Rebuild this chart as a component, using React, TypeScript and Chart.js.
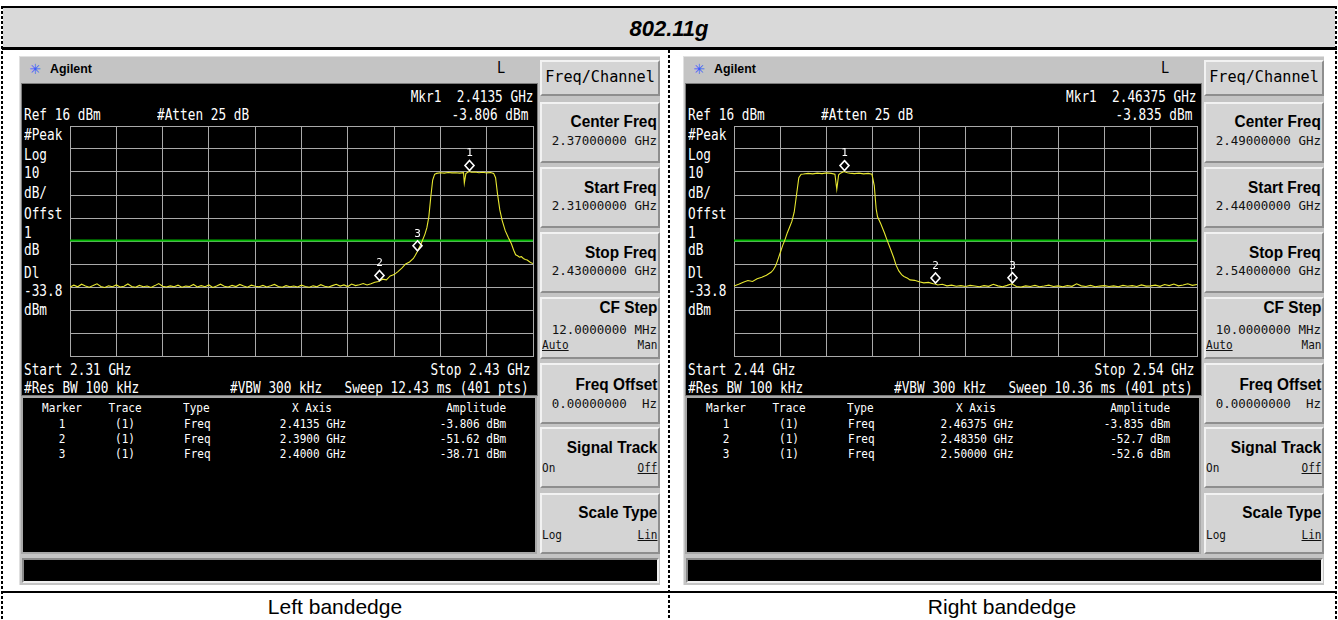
import React, { useEffect, useRef } from "react";
import { Chart, registerables } from "chart.js";

Chart.register(...registerables);

// ---------------- DATA ----------------
const TITLE = "802.11g";
const CAPTIONS = ["Left bandedge", "Right bandedge"];
const REF_LEVEL = 16; // dBm (top of graticule)
const DB_PER_DIV = 10;
const DISPLAY_LINE = -33.8; // dBm
const LEFT_SPAN = [2.31, 2.43]; // GHz
const RIGHT_SPAN = [2.44, 2.54]; // GHz

// Spectrum traces: [frequency GHz, level dBm]
const LEFT_TRACE: [number, number][] = [
  [2.310, -54.0], [2.311, -53.2], [2.312, -53.9], [2.313, -52.8], [2.314, -53.6], [2.315, -54.1], [2.316, -53.4], [2.317, -52.6], [2.318, -53.8], [2.319, -54.2],
  [2.320, -53.5], [2.321, -53.9], [2.322, -53.1], [2.323, -54.0], [2.324, -53.7], [2.325, -52.7], [2.326, -53.8], [2.327, -54.1], [2.328, -53.3], [2.329, -53.9],
  [2.330, -53.6], [2.331, -54.2], [2.332, -53.4], [2.333, -52.5], [2.334, -53.7], [2.335, -54.0], [2.336, -53.5], [2.337, -53.9], [2.338, -53.2], [2.339, -54.1],
  [2.340, -53.6], [2.341, -53.8], [2.342, -52.9], [2.343, -54.0], [2.344, -53.4], [2.345, -53.9], [2.346, -53.1], [2.347, -54.2], [2.348, -53.6], [2.349, -52.8],
  [2.350, -53.7], [2.351, -54.0], [2.352, -53.3], [2.353, -53.8], [2.354, -52.9], [2.355, -53.6], [2.356, -54.1], [2.357, -53.2], [2.358, -53.7], [2.359, -53.9],
  [2.360, -53.3], [2.361, -54.0], [2.362, -53.5], [2.363, -52.9], [2.364, -53.8], [2.365, -54.1], [2.366, -53.4], [2.367, -53.9], [2.368, -53.6], [2.369, -54.0],
  [2.370, -53.2], [2.371, -53.8], [2.372, -54.1], [2.373, -53.5], [2.374, -53.9], [2.375, -53.0], [2.376, -53.7], [2.377, -54.0], [2.378, -53.4], [2.379, -52.8],
  [2.380, -53.6], [2.381, -53.1], [2.382, -53.8], [2.383, -52.7], [2.384, -53.4], [2.385, -53.0], [2.386, -52.5], [2.387, -53.1], [2.388, -52.6], [2.389, -51.9],
  [2.390, -51.6], [2.391, -50.6], [2.392, -50.9], [2.393, -49.2], [2.394, -48.6], [2.395, -47.3], [2.396, -45.8], [2.397, -44.0], [2.398, -43.1], [2.399, -41.6],
  [2.3995, -40.2], [2.400, -38.7], [2.401, -35.2], [2.402, -31.0], [2.4025, -28.2], [2.403, -23.5], [2.4035, -15.0], [2.404, -7.5], [2.4045, -5.0], [2.405, -4.6],
  [2.406, -4.3], [2.407, -4.5], [2.408, -4.2], [2.409, -4.4], [2.410, -4.3], [2.411, -4.5], [2.412, -4.3], [2.4122, -8.8], [2.4126, -4.7], [2.413, -4.2],
  [2.4135, -3.8], [2.414, -4.1], [2.415, -4.0], [2.416, -4.3], [2.417, -4.1], [2.418, -4.4], [2.419, -4.2], [2.4198, -4.6], [2.4203, -6.5], [2.4208, -13.5],
  [2.4214, -20.5], [2.422, -25.0], [2.4228, -29.5], [2.4236, -32.5], [2.4244, -35.2], [2.425, -38.0], [2.4255, -40.0], [2.426, -40.4], [2.4265, -41.0], [2.427, -40.8],
  [2.4275, -41.6], [2.428, -42.0], [2.4285, -42.3], [2.429, -42.9], [2.4295, -43.5], [2.430, -43.8],
];

const RIGHT_TRACE: [number, number][] = [
  [2.440, -53.6], [2.441, -52.8], [2.442, -51.9], [2.443, -51.2], [2.444, -51.6], [2.445, -50.4], [2.446, -49.8], [2.447, -48.9], [2.448, -47.6], [2.4485, -46.5],
  [2.449, -44.8], [2.4495, -42.0], [2.450, -39.0], [2.4505, -36.0], [2.451, -33.5], [2.4515, -30.5], [2.452, -28.0], [2.4525, -25.5], [2.453, -21.5], [2.4535, -14.0],
  [2.454, -6.5], [2.4545, -5.0], [2.455, -4.9], [2.456, -4.6], [2.457, -4.8], [2.458, -4.5], [2.459, -4.7], [2.460, -4.4], [2.461, -4.6], [2.4618, -5.0],
  [2.4622, -11.5], [2.4626, -5.2], [2.463, -4.5], [2.46375, -3.8], [2.4645, -4.3], [2.465, -4.5], [2.466, -4.7], [2.467, -4.5], [2.468, -4.8], [2.469, -4.6],
  [2.4698, -5.0], [2.4703, -10.0], [2.4707, -20.0], [2.471, -23.5], [2.4717, -26.5], [2.4725, -30.5], [2.473, -33.3], [2.4738, -37.5], [2.4745, -41.3], [2.475, -44.5],
  [2.4756, -47.0], [2.4762, -48.6], [2.4767, -49.4], [2.4775, -50.2], [2.478, -50.9], [2.479, -51.1], [2.480, -51.7], [2.481, -52.2], [2.482, -52.0], [2.483, -52.6],
  [2.4835, -52.7], [2.484, -53.1], [2.485, -52.8], [2.486, -53.5], [2.487, -53.2], [2.488, -53.7], [2.489, -53.4], [2.490, -53.8], [2.491, -53.3], [2.492, -53.6],
  [2.493, -53.9], [2.494, -53.4], [2.495, -53.7], [2.496, -52.8], [2.497, -53.5], [2.498, -53.9], [2.499, -53.3], [2.500, -52.6], [2.501, -53.8], [2.502, -54.0],
  [2.503, -53.5], [2.504, -53.8], [2.505, -53.3], [2.506, -53.9], [2.507, -53.6], [2.508, -53.2], [2.509, -53.8], [2.510, -53.5], [2.511, -53.9], [2.512, -53.4],
  [2.513, -53.7], [2.514, -52.6], [2.515, -53.5], [2.516, -53.8], [2.517, -53.3], [2.518, -53.9], [2.519, -53.6], [2.520, -53.4], [2.521, -53.8], [2.522, -53.5],
  [2.523, -53.9], [2.524, -53.3], [2.525, -53.7], [2.526, -53.4], [2.527, -53.8], [2.528, -53.1], [2.529, -53.6], [2.530, -53.5], [2.531, -53.2], [2.532, -53.7],
  [2.533, -52.9], [2.534, -53.4], [2.535, -52.7], [2.536, -53.5], [2.537, -53.1], [2.538, -52.6], [2.539, -53.3], [2.540, -52.9],
];

// Markers
const LEFT_MARKER_FREQS = [2.4135, 2.39, 2.40];
const LEFT_MARKER_AMPS = [-3.806, -51.62, -38.71];
const LEFT_MARKER_X_LABELS = ["2.4135 GHz", "2.3900 GHz", "2.4000 GHz"];
const LEFT_MARKER_AMP_LABELS = ["-3.806 dBm", "-51.62 dBm", "-38.71 dBm"];

const RIGHT_MARKER_FREQS = [2.46375, 2.4835, 2.50];
const RIGHT_MARKER_AMPS = [-3.835, -52.7, -52.6];
const RIGHT_MARKER_X_LABELS = ["2.46375 GHz", "2.48350 GHz", "2.50000 GHz"];
const RIGHT_MARKER_AMP_LABELS = ["-3.835 dBm", "-52.7 dBm", "-52.6 dBm"];

// Instrument settings text
const LEFT_MKR1 = ["Mkr1  2.4135 GHz", "-3.806 dBm"];
const RIGHT_MKR1 = ["Mkr1  2.46375 GHz", "-3.835 dBm"];
const LEFT_START_STOP = ["Start 2.31 GHz", "Stop 2.43 GHz"];
const RIGHT_START_STOP = ["Start 2.44 GHz", "Stop 2.54 GHz"];
const LEFT_SWEEP = "Sweep 12.43 ms (401 pts)";
const RIGHT_SWEEP = "Sweep 10.36 ms (401 pts)";
const LEFT_KEY_VALUES = ["2.37000000 GHz", "2.31000000 GHz", "2.43000000 GHz", "12.0000000 MHz"];
const RIGHT_KEY_VALUES = ["2.49000000 GHz", "2.44000000 GHz", "2.54000000 GHz", "10.0000000 MHz"];
const SIDE_LABELS = ["#Peak", "Log", "10", "dB/", "Offst", "1", "dB", "Dl", "-33.8", "dBm"];

// ---------------- STYLE HELPERS ----------------
const W = 1338;
const H = 620;
const MONO = '"DejaVu Sans Mono", "Liberation Mono", monospace';
const SANS = '"Liberation Sans", Arial, sans-serif';

type TP = {
  x: number;
  y: number;
  a?: "start" | "end" | "middle";
  size?: number;
  sx?: number;
  color?: string;
  font?: string;
  weight?: number;
  italic?: boolean;
  underline?: boolean;
  children: React.ReactNode;
};

function T({ x, y, a = "start", size = 15, sx = 1, color = "#fff", font = MONO, weight = 400, italic = false, underline = false, children }: TP) {
  const s: any = {
    position: "absolute",
    top: y - size * 0.6,
    lineHeight: `${size * 1.2}px`,
    height: size * 1.2,
    fontSize: size,
    fontFamily: font,
    fontWeight: weight,
    fontStyle: italic ? "italic" : "normal",
    textDecoration: underline ? "underline" : "none",
    color,
    whiteSpace: "pre",
  };
  if (a === "start") {
    s.left = x;
    s.transformOrigin = "left center";
    s.transform = `scaleX(${sx})`;
  } else if (a === "end") {
    s.right = W - x;
    s.transformOrigin = "right center";
    s.transform = `scaleX(${sx})`;
  } else {
    s.left = x;
    s.transformOrigin = "center center";
    s.transform = `translateX(-50%) scaleX(${sx})`;
  }
  return <div style={s}>{children}</div>;
}

function Box({ x, y, w, h, style }: { x: number; y: number; w: number; h: number; style?: any }) {
  return <div style={{ position: "absolute", left: x, top: y, width: w, height: h, boxSizing: "border-box", ...style }} />;
}

// ---------------- CHART ----------------
type SpecProps = {
  x: number;
  y: number;
  w: number;
  h: number;
  trace: [number, number][];
  span: number[];
  mf: number[];
  ma: number[];
};

function Spectrum({ x, y, w, h, trace, span, mf, ma }: SpecProps) {
  const ref = useRef<HTMLCanvasElement>(null);
  useEffect(() => {
    if (!ref.current) return;
    const yMin = REF_LEVEL - DB_PER_DIV * 10;
    const markerPlugin = {
      id: "markers",
      afterDatasetsDraw(chart: any) {
        const { ctx, scales } = chart;
        const xs = scales.x;
        const ys = scales.y;
        ctx.save();
        mf.forEach((f, i) => {
          const px = Math.round(xs.getPixelForValue(f)) + 0.5;
          const py = ys.getPixelForValue(ma[i]);
          const cy = py - 6;
          ctx.strokeStyle = "#ffffff";
          ctx.lineWidth = 1.6;
          ctx.beginPath();
          ctx.moveTo(px, cy - 5);
          ctx.lineTo(px + 4.5, cy);
          ctx.lineTo(px, cy + 5);
          ctx.lineTo(px - 4.5, cy);
          ctx.closePath();
          ctx.stroke();
          ctx.fillStyle = "#ffffff";
          ctx.font = '11px "DejaVu Sans Mono"';
          ctx.textAlign = "center";
          ctx.textBaseline = "middle";
          ctx.fillText(String(i + 1), px, cy - 12);
        });
        ctx.restore();
      },
    };
    const gridColor = "#a9a9a9";
    const chart = new Chart(ref.current, {
      type: "line",
      data: {
        datasets: [
          {
            data: trace.map(([f, a]) => ({ x: f, y: a })),
            borderColor: "#e8e830",
            borderWidth: 1.1,
            pointRadius: 0,
            tension: 0,
            order: 1,
          },
          {
            data: [
              { x: span[0], y: DISPLAY_LINE },
              { x: span[1], y: DISPLAY_LINE },
            ],
            borderColor: "#00b800",
            borderWidth: 2,
            pointRadius: 0,
            order: 2,
          },
        ],
      },
      options: {
        animation: false,
        responsive: false,
        maintainAspectRatio: false,
        events: [],
        layout: { padding: 1 },
        plugins: { legend: { display: false }, tooltip: { enabled: false }, title: { display: false } },
        scales: {
          x: {
            type: "linear",
            min: span[0],
            max: span[1],
            afterBuildTicks: (s: any) => {
              const t = [];
              for (let i = 0; i <= 10; i++) t.push({ value: span[0] + ((span[1] - span[0]) * i) / 10 });
              s.ticks = t;
            },
            ticks: { display: false },
            grid: { color: gridColor, lineWidth: 1, drawTicks: false },
            border: { color: gridColor, width: 1 },
          },
          y: {
            type: "linear",
            min: yMin,
            max: REF_LEVEL,
            afterBuildTicks: (s: any) => {
              const t = [];
              for (let i = 0; i <= 10; i++) t.push({ value: yMin + DB_PER_DIV * i });
              s.ticks = t;
            },
            ticks: { display: false },
            grid: { color: gridColor, lineWidth: 1, drawTicks: false },
            border: { color: gridColor, width: 1 },
          },
        },
      } as any,
      plugins: [markerPlugin],
    });
    return () => chart.destroy();
  }, []);
  return (
    <canvas
      ref={ref}
      width={w + 2}
      height={h + 2}
      style={{ position: "absolute", left: x - 1, top: y - 1, width: w + 2, height: h + 2 }}
    />
  );
}

// ---------------- PANEL ----------------
type PanelProps = {
  x0: number;
  trace: [number, number][];
  span: number[];
  mf: number[];
  ma: number[];
  mxl: string[];
  mal: string[];
  mkr1: string[];
  startStop: string[];
  sweep: string;
  keyValues: string[];
};

const KEY_TOPS = [102, 167, 232, 297, 363, 427, 493];

function Panel({ x0, trace, span, mf, ma, mxl, mal, mkr1, startStop, sweep, keyValues }: PanelProps) {
  const SCR = 15;
  const SX = 0.85;
  const sideY = [135, 155, 173, 193, 214, 233, 250, 273, 291, 310];
  const rowY = [424, 439, 454];
  const kx = x0 + 521;
  const kr = x0 + 638;
  const keyDefs = [
    { label: "Center Freq", value: keyValues[0], ly: 122, vy: 140 },
    { label: "Start Freq", value: keyValues[1], ly: 188, vy: 205 },
    { label: "Stop Freq", value: keyValues[2], ly: 253, vy: 270 },
    { label: "CF Step", value: keyValues[3], ly: 308, vy: 329, opts: ["Auto", "Man"], oy: 345, ul: 0 },
    { label: "Freq Offset", value: "0.00000000  Hz", ly: 385, vy: 403 },
    { label: "Signal Track", ly: 448, opts: ["On", "Off"], oy: 468, ul: 1 },
    { label: "Scale Type", ly: 513, opts: ["Log", "Lin"], oy: 535, ul: 1 },
  ];
  const keyStyle = {
    background: "#d4d4d4",
    borderTop: "2px solid #f2f2f2",
    borderLeft: "2px solid #f2f2f2",
    borderBottom: "2px solid #8e8e8e",
    borderRight: "2px solid #8e8e8e",
  };
  return (
    <>
      {/* panel body */}
      <Box x={x0} y={56} w={641} h={529} style={{ background: "#c4c4c4", borderTop: "1px solid #e0e0e0", borderLeft: "1px solid #e0e0e0" }} />
      {/* header */}
      <T x={x0 + 16} y={69} a="middle" size={14} color="#3b5bff" font='"DejaVu Sans", sans-serif'>✳</T>
      <T x={x0 + 31} y={69} size={13} sx={0.95} color="#000" font={SANS} weight={700}>Agilent</T>
      <T x={x0 + 482} y={68} a="middle" size={16} sx={0.85} color="#000">L</T>
      {/* screen */}
      <Box x={x0 + 2} y={83} w={517} h={313} style={{ background: "#000", border: "1px solid #7c7c7c" }} />
      <Box x={x0 + 2} y={396} w={516} h={158} style={{ background: "#000", border: "2px solid #a8a8a8" }} />
      {/* bottom bar */}
      <Box x={x0 + 3} y={558} w={637} h={25} style={{ background: "#000", borderTop: "2px solid #8a8a8a", borderLeft: "2px solid #8a8a8a", borderBottom: "2px solid #efefef", borderRight: "2px solid #efefef" }} />

      {/* screen texts */}
      <T x={x0 + 514} y={97} a="end" size={SCR} sx={SX}>{mkr1[0]}</T>
      <T x={x0 + 5} y={115} size={SCR} sx={SX}>Ref 16 dBm</T>
      <T x={x0 + 138} y={115} size={SCR} sx={SX}>#Atten 25 dB</T>
      <T x={x0 + 509} y={115} a="end" size={SCR} sx={SX}>{mkr1[1]}</T>
      {SIDE_LABELS.map((s, i) => (
        <T key={s + i} x={x0 + 5} y={sideY[i]} size={SCR} sx={SX}>{s}</T>
      ))}
      <T x={x0 + 5} y={370} size={SCR} sx={SX}>{startStop[0]}</T>
      <T x={x0 + 511} y={370} a="end" size={SCR} sx={SX}>{startStop[1]}</T>
      <T x={x0 + 5} y={388} size={SCR} sx={SX}>#Res BW 100 kHz</T>
      <T x={x0 + 211} y={388} size={SCR} sx={SX}>#VBW 300 kHz</T>
      <T x={x0 + 510} y={388} a="end" size={SCR} sx={SX}>{sweep}</T>

      {/* marker table */}
      <T x={x0 + 43} y={408} a="middle" size={12} sx={0.92}>Marker</T>
      <T x={x0 + 106} y={408} a="middle" size={12} sx={0.92}>Trace</T>
      <T x={x0 + 164} y={408} size={12} sx={0.92}>Type</T>
      <T x={x0 + 293} y={408} a="middle" size={12} sx={0.92}>X Axis</T>
      <T x={x0 + 487} y={408} a="end" size={12} sx={0.92}>Amplitude</T>
      {rowY.map((ry, i) => (
        <React.Fragment key={i}>
          <T x={x0 + 43} y={ry} a="middle" size={12} sx={0.92}>{String(i + 1)}</T>
          <T x={x0 + 106} y={ry} a="middle" size={12} sx={0.92}>(1)</T>
          <T x={x0 + 165} y={ry} size={12} sx={0.92}>Freq</T>
          <T x={x0 + 294} y={ry} a="middle" size={12} sx={0.92}>{mxl[i]}</T>
          <T x={x0 + 487} y={ry} a="end" size={12} sx={0.92}>{mal[i]}</T>
        </React.Fragment>
      ))}

      {/* graticule & trace */}
      <Spectrum x={x0 + 51} y={126} w={463} h={230} trace={trace} span={span} mf={mf} ma={ma} />

      {/* softkeys */}
      <Box x={kx} y={60} w={120} h={36} style={keyStyle} />
      <T x={kx + 60} y={77} a="middle" size={15.5} sx={0.98} color="#000">Freq/Channel</T>
      {keyDefs.map((k, i) => (
        <React.Fragment key={k.label}>
          <Box x={kx} y={KEY_TOPS[i]} w={120} h={i === 3 ? 62 : 61} style={keyStyle} />
          <T x={kr} y={k.ly} a="end" size={16} sx={0.96} color="#000" font={SANS} weight={700}>{k.label}</T>
          {k.value && (
            <T x={kr} y={k.vy!} a="end" size={12.5} color="#111">{k.value}</T>
          )}
          {k.opts && (
            <>
              <T x={kx + 2} y={k.oy!} size={13} sx={0.85} color="#111" underline={k.ul === 0}>{k.opts[0]}</T>
              <T x={kr} y={k.oy!} a="end" size={13} sx={0.85} color="#111" underline={k.ul === 1}>{k.opts[1]}</T>
            </>
          )}
        </React.Fragment>
      ))}
    </>
  );
}

// ---------------- APP ----------------
function Dashed({ x, y, h }: { x: number; y: number; h: number }) {
  return (
    <div
      style={{
        position: "absolute",
        left: x,
        top: y,
        width: 2,
        height: h,
        background: "repeating-linear-gradient(to bottom, #000 0px, #000 3px, transparent 3px, transparent 5px)",
      }}
    />
  );
}

export default function App() {
  return (
    <div style={{ position: "absolute", left: 0, top: 0, width: W, height: H, background: "#fff", overflow: "hidden" }}>
      {/* title row */}
      <Box x={2} y={6} w={1335} h={2} style={{ background: "#000" }} />
      <Box x={3} y={8} w={1332} h={39} style={{ background: "#d9d9d9" }} />
      <T x={669} y={29} a="middle" size={22} color="#000" font={SANS} weight={700} italic>{TITLE}</T>
      <Box x={2} y={47} w={1335} h={3} style={{ background: "#000" }} />

      <Panel
        x0={19}
        trace={LEFT_TRACE}
        span={LEFT_SPAN}
        mf={LEFT_MARKER_FREQS}
        ma={LEFT_MARKER_AMPS}
        mxl={LEFT_MARKER_X_LABELS}
        mal={LEFT_MARKER_AMP_LABELS}
        mkr1={LEFT_MKR1}
        startStop={LEFT_START_STOP}
        sweep={LEFT_SWEEP}
        keyValues={LEFT_KEY_VALUES}
      />
      <Panel
        x0={683}
        trace={RIGHT_TRACE}
        span={RIGHT_SPAN}
        mf={RIGHT_MARKER_FREQS}
        ma={RIGHT_MARKER_AMPS}
        mxl={RIGHT_MARKER_X_LABELS}
        mal={RIGHT_MARKER_AMP_LABELS}
        mkr1={RIGHT_MKR1}
        startStop={RIGHT_START_STOP}
        sweep={RIGHT_SWEEP}
        keyValues={RIGHT_KEY_VALUES}
      />

      {/* bottom captions */}
      <Box x={2} y={591} w={1335} h={2} style={{ background: "#000" }} />
      <T x={335} y={607} a="middle" size={21} color="#000" font={SANS}>{CAPTIONS[0]}</T>
      <T x={1002} y={607} a="middle" size={21} color="#000" font={SANS}>{CAPTIONS[1]}</T>

      {/* dashed cell borders */}
      <Dashed x={1} y={6} h={614} />
      <Dashed x={668} y={50} h={570} />
      <Dashed x={1335} y={6} h={614} />
    </div>
  );
}
